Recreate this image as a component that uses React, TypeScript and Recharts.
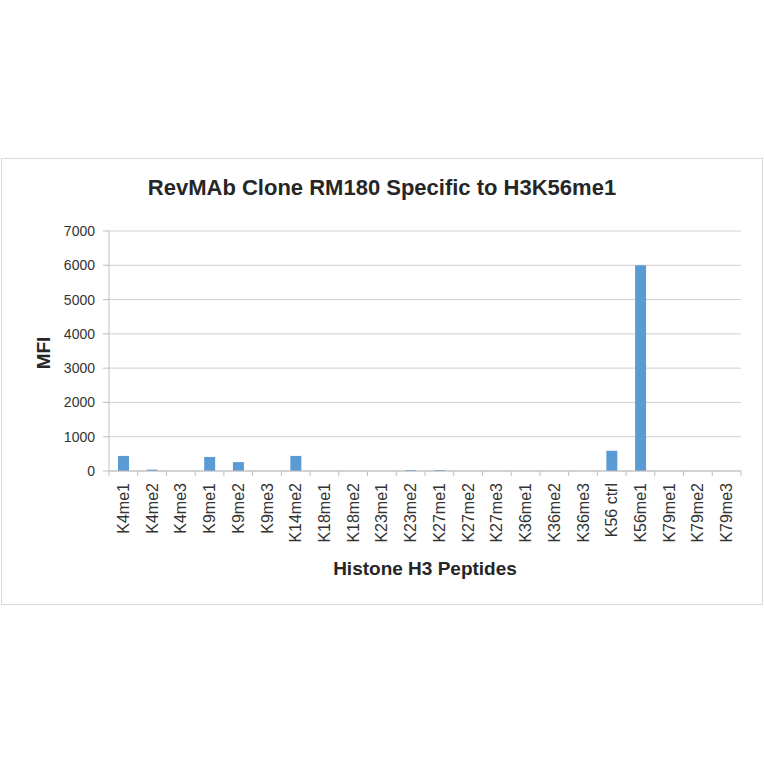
import React from "react";
import { BarChart, Bar, XAxis, YAxis, CartesianGrid, Label } from "recharts";

const categories = [
  "K4me1", "K4me2", "K4me3", "K9me1", "K9me2", "K9me3", "K14me2", "K18me1",
  "K18me2", "K23me1", "K23me2", "K27me1", "K27me2", "K27me3", "K36me1",
  "K36me2", "K36me3", "K56 ctrl", "K56me1", "K79me1", "K79me2", "K79me3",
];
const mfiValues = [
  440, 40, 0, 410, 260, 0, 440, 0, 0, 0, 30, 30, 0, 0, 0, 0, 0, 590, 6000, 0, 0, 0,
];
const yTicks = [0, 1000, 2000, 3000, 4000, 5000, 6000, 7000];

const data = categories.map((name, i) => ({ name, mfi: mfiValues[i] }));

const CHART_W = 760;
const CHART_H = 445;
const MARGIN = { top: 72, right: 21, left: 0, bottom: 0 };
const YAXIS_W = 107;
const PLOT_W = CHART_W - MARGIN.left - MARGIN.right - YAXIS_W;
const HALF_BAND = PLOT_W / categories.length / 2;
const FONT = "'Liberation Sans', Arial, sans-serif";

const XTick = (props: any) => {
  const { x, y, payload, index } = props;
  return (
    <g>
      {index === 0 && (
        <line x1={x - HALF_BAND} x2={x - HALF_BAND} y1={y} y2={y + 5} stroke="#bfbfbf" />
      )}
      <line x1={x + HALF_BAND} x2={x + HALF_BAND} y1={y} y2={y + 5} stroke="#bfbfbf" />
      <text
        x={x}
        y={y + 12}
        transform={`rotate(-90, ${x}, ${y + 12})`}
        textAnchor="end"
        dominantBaseline="central"
        fontFamily={FONT}
        fontSize={16}
        fill="#333333"
      >
        {payload.value}
      </text>
    </g>
  );
};

export default function App() {
  return (
    <div
      style={{
        position: "absolute",
        left: 1,
        top: 158,
        width: 762,
        height: 447,
        boxSizing: "border-box",
        border: "1px solid #d9d9d9",
        background: "#fff",
      }}
    >
      <div
        style={{
          position: "absolute",
          left: 0,
          right: 0,
          top: 17,
          textAlign: "center",
          fontFamily: FONT,
          fontWeight: "bold",
          fontSize: 22,
          lineHeight: "24px",
          color: "#262626",
        }}
      >
        RevMAb Clone RM180 Specific to H3K56me1
      </div>
      <div style={{ position: "absolute", left: 0, top: 0 }}>
        <BarChart width={CHART_W} height={CHART_H} data={data} margin={MARGIN}>
          <CartesianGrid vertical={false} stroke="#d0d0d0" />
          <XAxis
            dataKey="name"
            height={CHART_H - 312}
            interval={0}
            tickSize={0}
            tickMargin={0}
            tick={<XTick />}
            axisLine={{ stroke: "#bfbfbf" }}
            tickLine={false}
          >
            <Label
              content={(p: any) => {
                const vb = p.viewBox;
                return (
                  <text
                    x={vb.x + vb.width / 2}
                    y={vb.y + 97}
                    textAnchor="middle"
                    dominantBaseline="central"
                    fontFamily={FONT}
                    fontWeight="bold"
                    fontSize={19}
                    fill="#262626"
                  >
                    Histone H3 Peptides
                  </text>
                );
              }}
            />
          </XAxis>
          <YAxis
            width={YAXIS_W}
            domain={[0, 7000]}
            ticks={yTicks}
            interval={0}
            tickSize={6}
            tickMargin={8}
            axisLine={{ stroke: "#bfbfbf" }}
            tickLine={{ stroke: "#bfbfbf" }}
            tick={{ fontFamily: FONT, fontSize: 14, fill: "#333333" }}
          >
            <Label
              content={(p: any) => {
                const vb = p.viewBox;
                const cx = vb.x + 41;
                const cy = vb.y + vb.height / 2 + 2;
                return (
                  <text
                    x={cx}
                    y={cy}
                    transform={`rotate(-90, ${cx}, ${cy})`}
                    textAnchor="middle"
                    dominantBaseline="central"
                    fontFamily={FONT}
                    fontWeight="bold"
                    fontSize={19}
                    fill="#262626"
                  >
                    MFI
                  </text>
                );
              }}
            />
          </YAxis>
          <Bar dataKey="mfi" fill="#5b9bd5" barSize={11} isAnimationActive={false} />
        </BarChart>
      </div>
    </div>
  );
}
